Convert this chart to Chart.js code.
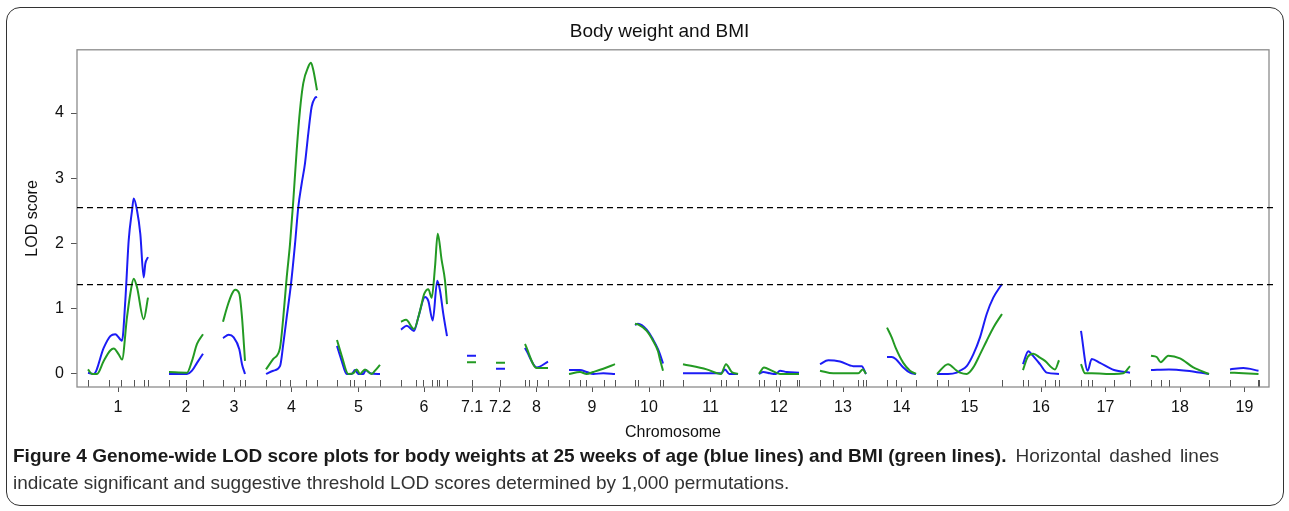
<!DOCTYPE html>
<html>
<head>
<meta charset="utf-8">
<script src="https://cdn.jsdelivr.net/npm/chart.js@4.4.1/dist/chart.umd.min.js"></script>
<style>
  body { margin: 0; background: #fff; }
  #frame {
    position: absolute; left: 6px; top: 7px; width: 1276px; height: 497px;
    border: 1.5px solid #333; border-radius: 14px;
  }
  #lod { position: absolute; left: 0; top: 0; }
  #caption {
    position: absolute; left: 13px; top: 442px; width: 1268px;
    font-family: 'Liberation Sans Narrow', 'Arial Narrow', 'Liberation Sans', sans-serif;
    font-size: 19px; line-height: 27px; color: #333; white-space: nowrap;
  }
  #caption b { color: #1a1a1a; margin-right: 9px; }
  #caption .rest { word-spacing: 3px; }
</style>
</head>
<body>
<div id="frame"></div>
<canvas id="lod" width="1289" height="450"></canvas>
<div id="caption">
  <div><b>Figure 4 Genome-wide LOD score plots for body weights at 25 weeks of age (blue lines) and BMI (green lines).</b><span class="rest">Horizontal dashed lines</span></div>
  <div>indicate significant and suggestive threshold LOD scores determined by 1,000 permutations.</div>
</div>
<script>
// Chromosomes along the genome axis (cumulative map position)
const chromNames = ['1', '2', '3', '4', '5', '6', '7.1', '7.2', '8', '9', '10',
  '11', '12', '13', '14', '15', '16', '17', '18', '19'];

// Marker positions per chromosome
const markers = [
  [11, 31.5, 44, 56.5, 66.5, 71],
  [92, 109, 126],
  [146, 163, 168],
  [189, 203, 213, 229, 240],
  [260, 273, 277, 288, 303],
  [324, 339, 346, 355, 360, 361.5, 370],
  [395],
  [423],
  [448, 452, 460, 471],
  [492, 503, 509, 527, 538],
  [558, 561, 583, 586],
  [606, 644, 649, 661],
  [682, 687, 699, 703, 720, 722],
  [743, 756, 781, 786, 789],
  [810, 819, 839],
  [860, 871, 925],
  [946, 951, 968, 978, 982],
  [1004, 1011, 1015, 1037, 1053],
  [1074, 1084, 1092, 1132],
  [1153, 1181, 1181.8],
];

// Body weight at 25 weeks: [position, LOD] per chromosome
const weightLod = [
  [[11, 0.02], [16.7, 0], [26.7, 0.4], [33.3, 0.58], [38.3, 0.61], [43.3, 0.53], [45, 0.51], [48.3, 1.12],
   [51.7, 2.05], [55, 2.5], [56.7, 2.69], [60, 2.51], [63.3, 2.15], [66.7, 1.48], [68.3, 1.69], [71, 1.79]],
  [[92, 0], [110, 0], [115, 0.05], [120, 0.17], [126, 0.31]],
  [[146, 0.55], [151.7, 0.6], [156.7, 0.56], [162.3, 0.38], [165, 0.15], [168, 0]],
  [[189, 0], [196.3, 0.05], [203, 0.12], [206.3, 0.46], [209.7, 0.87], [214, 1.38], [218, 1.99], [221.3, 2.56],
   [224.7, 2.92], [228, 3.23], [231.3, 3.69], [234.7, 4.1], [238, 4.23], [240, 4.25]],
  [[260, 0.43], [264.7, 0.2], [269.7, 0], [274.7, 0], [278, 0.06], [281.3, 0], [286.3, 0], [288.7, 0.06],
   [293, 0.01], [303, 0]],
  [[324, 0.68], [329.7, 0.74], [337, 0.66], [341.3, 0.87], [348, 1.18], [351.3, 1.12], [355.7, 0.82],
   [360.3, 1.43], [363, 1.28], [366.3, 0.92], [370, 0.58]],
  [[390, 0.28], [399, 0.28]],
  [[419, 0.08], [428, 0.08]],
  [[448, 0.4], [449.7, 0.35], [459.7, 0.1], [471, 0.19]],
  [[492, 0.06], [503, 0.06], [509.7, 0.03], [516.3, 0], [526.3, 0.01], [538, 0]],
  [[558, 0.75], [561, 0.77], [569.7, 0.68], [576, 0.53], [581, 0.38], [583, 0.3], [586, 0.16]],
  [[606, 0.01], [616.3, 0.01], [644, 0.01], [648, 0.07], [652.3, 0], [661, 0]],
  [[682, 0], [686.3, 0.03], [693, 0.01], [698.7, 0], [703, 0.05], [709.7, 0.03], [722, 0.02]],
  [[743, 0.15], [751.3, 0.21], [763, 0.19], [776.3, 0.12], [784.7, 0.12], [789, 0]],
  [[810, 0.26], [814.7, 0.26], [818.7, 0.23], [826.3, 0.1], [833, 0.02], [839, 0]],
  [[860, 0], [871, 0], [879.7, 0.02], [883, 0.05], [889.7, 0.12], [896.3, 0.3], [903, 0.56], [909.7, 0.92],
   [916.3, 1.17], [925, 1.38]],
  [[946, 0.15], [951.3, 0.35], [954.7, 0.3], [963, 0.15], [969.7, 0.02], [982, 0]],
  [[1004, 0.66], [1010.7, 0.05], [1014.7, 0.23], [1023, 0.17], [1037, 0.06], [1053, 0.02]],
  [[1074, 0.06], [1092, 0.07], [1109.7, 0.05], [1132, 0]],
  [[1153, 0.07], [1166.3, 0.09], [1181.5, 0.05]],
];

// BMI: [position, LOD] per chromosome
const bmiLod = [
  [[11, 0.07], [15, 0], [20, 0], [26.7, 0.2], [33.3, 0.36], [36.7, 0.39], [41.7, 0.3], [45, 0.22], [50, 0.87],
   [53.3, 1.23], [56.7, 1.46], [60, 1.33], [66.7, 0.84], [71, 1.17]],
  [[92, 0.03], [110, 0.02], [115, 0.2], [120, 0.46], [126, 0.61]],
  [[146, 0.8], [150, 1.02], [155, 1.23], [158.3, 1.29], [162.3, 1.23], [165, 0.87], [168, 0.2]],
  [[189, 0.07], [196.3, 0.23], [203, 0.4], [206.3, 0.87], [209.7, 1.48], [213, 1.99], [216.3, 2.66],
   [219.7, 3.43], [223, 4.05], [226.3, 4.46], [231.3, 4.71], [234, 4.77], [236.3, 4.66], [240, 4.35]],
  [[260, 0.52], [264.7, 0.28], [271.3, 0], [276.3, 0.01], [279.7, 0.07], [283, 0], [288, 0.07], [294.7, 0],
   [298, 0.05], [303, 0.14]],
  [[324, 0.8], [329, 0.83], [337, 0.69], [343, 0.97], [347.3, 1.23], [351.3, 1.3], [354.7, 1.17], [358, 1.64],
   [360.7, 2.15], [364.7, 1.74], [368, 1.43], [370, 1.07]],
  [[390, 0.18], [399, 0.18]],
  [[419, 0.17], [428, 0.17]],
  [[448, 0.46], [459.7, 0.09], [471, 0.09]],
  [[492, 0], [503, 0.03], [509.7, 0], [516.3, 0.03], [526.3, 0.08], [538, 0.15]],
  [[558, 0.77], [561, 0.76], [569.7, 0.66], [576, 0.51], [581, 0.35], [583, 0.22], [586, 0.05]],
  [[606, 0.15], [629.7, 0.07], [644, 0], [649, 0.15], [654.7, 0.03], [661, 0]],
  [[682, 0], [687, 0.1], [694.7, 0.05], [703, 0], [709.7, 0], [722, 0]],
  [[743, 0.05], [756.3, 0.01], [781.3, 0.01], [785.7, 0.07], [789, 0]],
  [[810, 0.71], [814.7, 0.56], [818.7, 0.4], [826.3, 0.17], [833, 0.05], [839, 0]],
  [[860, 0], [871, 0.15], [879.7, 0.05], [883, 0.02], [889.7, 0], [896.3, 0.1], [903, 0.3], [909.7, 0.51],
   [916.3, 0.71], [925, 0.92]],
  [[946, 0.06], [950.7, 0.26], [956.3, 0.31], [963, 0.25], [968, 0.2], [978, 0.07], [982, 0.21]],
  [[1004, 0.15], [1008, 0.01], [1014.7, 0.01], [1037, 0], [1046.3, 0.01], [1053, 0.12]],
  [[1074, 0.28], [1079.7, 0.26], [1083.7, 0.18], [1091.3, 0.28], [1103, 0.24], [1116.3, 0.1], [1132, 0]],
  [[1153, 0.02], [1166.3, 0.01], [1181.5, 0]],
];

// Significant and suggestive thresholds from 1,000 permutations
const thresholds = [2.55, 1.37];
const yTicks = [0, 1, 2, 3, 4];
const genomeEnd = 1192;

// Chromosome label sits at the middle of its marker span
const chromCenters = markers.map(m => (m[0] + m[m.length - 1]) / 2);

// Join chromosomes into one series, with a null point between each so lines break
function toSeries(chroms) {
  const pts = [];
  chroms.forEach((c, i) => {
    c.forEach(([x, y]) => pts.push({ x, y }));
    if (i < chroms.length - 1) pts.push({ x: c[c.length - 1][0] + 1, y: null });
  });
  return pts;
}

const axisFont = { family: "'Liberation Sans', Arial, sans-serif", size: 16 };

// Plot box and marker rug along the bottom
const boxAndRug = {
  id: 'boxAndRug',
  beforeDatasetsDraw(chart) {
    const { ctx, chartArea: a, scales: { x } } = chart;
    ctx.save();
    ctx.strokeStyle = '#555';
    ctx.lineWidth = 1;
    markers.flat().forEach(m => {
      const px = Math.round(x.getPixelForValue(m)) + 0.5;
      ctx.beginPath();
      ctx.moveTo(px, a.bottom);
      ctx.lineTo(px, a.bottom - 7);
      ctx.stroke();
    });
    ctx.strokeStyle = '#8c8c8c';
    ctx.lineWidth = 1.3;
    ctx.strokeRect(a.left, a.top, a.right - a.left, a.bottom - a.top);
    ctx.restore();
  },
};

const lineStyle = { borderWidth: 2, pointRadius: 0, fill: false, spanGaps: false, cubicInterpolationMode: 'monotone' };

new Chart(document.getElementById('lod'), {
  type: 'line',
  data: {
    datasets: [
      // threshold lines run a little past the right edge of the box
      ...thresholds.map(t => ({
        data: [{ x: 0, y: t }, { x: genomeEnd + 4, y: t }],
        borderColor: '#000', borderWidth: 1.3, borderDash: [6, 4], pointRadius: 0, tension: 0,
        clip: { left: 0, top: 0, right: 5, bottom: 0 },
      })),
      { data: toSeries(bmiLod), borderColor: '#239a23', ...lineStyle },
      { data: toSeries(weightLod), borderColor: '#1c1cf5', ...lineStyle },
    ],
  },
  options: {
    responsive: false,
    animation: false,
    events: [],
    // wide left padding keeps the title centred over the plot region
    layout: { padding: { left: 50, top: 0, right: 20, bottom: 8 } },
    plugins: {
      legend: { display: false },
      tooltip: { enabled: false },
      title: {
        display: true,
        text: 'Body weight and BMI',
        color: '#111',
        font: { family: "'Liberation Sans', Arial, sans-serif", size: 19, weight: 'normal' },
        padding: { top: 20, bottom: 7 },
      },
    },
    scales: {
      x: {
        type: 'linear',
        min: 0,
        max: genomeEnd,
        afterBuildTicks: s => { s.ticks = chromCenters.map(v => ({ value: v })); },
        afterFit: s => { s.height = 55; },
        ticks: {
          callback: (v, i) => chromNames[i],
          autoSkip: false,
          maxRotation: 0,
          padding: 6,
          color: '#111',
          font: axisFont,
        },
        grid: { drawOnChartArea: false, drawTicks: true, tickLength: 5, color: '#555' },
        border: { display: false },
        title: { display: true, text: 'Chromosome', color: '#111', font: axisFont, padding: { top: 0, bottom: 0 } },
      },
      y: {
        min: -0.2,
        max: 4.97,
        afterBuildTicks: s => { s.ticks = yTicks.map(v => ({ value: v })); },
        afterFit: s => { s.width = 27; },
        ticks: { padding: 7, color: '#111', font: axisFont },
        grid: { drawOnChartArea: false, drawTicks: true, tickLength: 6, color: '#555' },
        border: { display: false },
        title: { display: true, text: 'LOD score', color: '#111', font: axisFont, padding: { top: -26.6, bottom: 0 } },
      },
    },
  },
  plugins: [boxAndRug],
});
</script>
</body>
</html>
